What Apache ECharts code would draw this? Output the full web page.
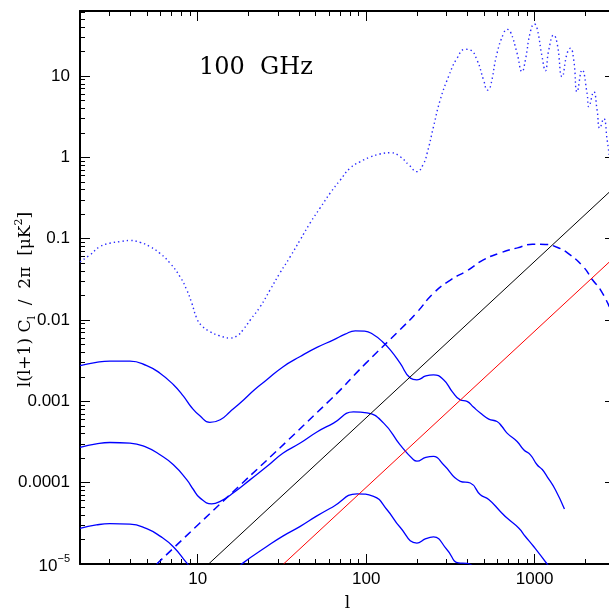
<!DOCTYPE html>
<html>
<head>
<meta charset="utf-8">
<script src="https://cdn.jsdelivr.net/npm/echarts@6/dist/echarts.min.js"></script>
<style>
html, body { margin: 0; padding: 0; background: #fff; }
#chart { width: 609px; height: 613px; }
</style>
</head>
<body>
<div id="chart"></div>
<script>
// axis ranges (log-log)
const xRange = [2, 3000];
const yRange = [1e-5, 63];

// tick labels
const xMajorTicks = [10, 100, 1000];
const xTickLabels = ['10', '100', '1000'];
const yMajorTicks = [1e-5, 1e-4, 1e-3, 0.01, 0.1, 1, 10];
const yTickLabels = ['10^-5', '0.0001', '0.001', '0.01', '0.1', '1', '10'];

// dotted curve (total)
const dottedL = [2, 2.29, 2.63, 3.01, 3.46, 3.96, 4.55, 5.2, 5.97, 6.85, 7.85, 8.6, 9.22, 9.87, 10.5,
  11.8, 13.5, 15.6, 17.5, 18.6, 20.5, 23.5, 26.9, 30.8, 35.4, 40.6, 46.5, 53.3, 61.2, 70.2, 80.5, 92.3,
  106, 121, 139, 159, 180, 200, 218, 230, 251, 275, 308, 346, 388, 415, 455, 498, 526, 546, 598, 655,
  686, 718, 787, 842, 881, 944, 997, 1034, 1107, 1159, 1213, 1299, 1360, 1456, 1559, 1631,
  1707, 1787, 1914, 2049, 2096, 2244, 2349, 2436, 2572, 2694, 2780];
const dottedV = [0.052, 0.063, 0.080, 0.088, 0.092, 0.095, 0.090, 0.080, 0.066, 0.050, 0.034, 0.0235, 0.0161, 0.0105, 0.0086,
  0.0072, 0.0064, 0.0060, 0.0066, 0.0076, 0.010, 0.0146, 0.0235, 0.038, 0.060, 0.097, 0.156, 0.239, 0.365, 0.527, 0.741, 0.885,
  1.01, 1.10, 1.14, 1.02, 0.80, 0.667, 0.82, 1.12, 2.38, 5.07, 9.8, 16.5, 21.3, 20.9, 15.7, 8.9, 6.7, 7.4, 19.0, 33.5,
  37.5, 35.1, 19.0, 11.3, 15.7, 35.1, 43.6, 38.6, 17.3, 11.6, 20.9, 31.9, 25.2, 9.8, 19.0, 21.9,
  15.7, 6.4, 11.9, 6.1, 4.2, 6.4, 3.8, 2.28, 3.0, 1.64, 1.02];

// dashed curve
const dashedL = [5.71, 10.3, 61.1, 98.7, 159, 200, 250, 316, 398, 496, 626, 790, 970, 1159, 1346, 1566, 1948, 2204, 2460, 2780];
const dashedV = [1.0e-5, 3.19e-5, 1.04e-3, 2.89e-3, 7.6e-3, 0.0124, 0.0212, 0.031, 0.0405, 0.0548, 0.0669, 0.0771,
  0.0855, 0.085, 0.079, 0.0669, 0.045, 0.0312, 0.0235, 0.0145];

// solid curves
const solidTopL = [2, 2.5, 3.01, 3.96, 4.98, 5.97, 7.18, 8.22, 9.2, 10.3, 11.8, 13.6, 15.6, 18.7, 21.8, 25.7, 32, 40.6, 51, 64, 75, 86.1,
  98, 110.6, 125, 139, 159, 183, 200, 226, 251, 288, 325, 362, 397, 433, 476, 534, 598, 640, 686, 787, 861, 944, 1034, 1110, 1186, 1328, 1503];
const solidTopV = [0.00275, 0.00302, 0.00313, 0.00313, 0.00275, 0.00222, 0.0016, 0.00116, 0.00084, 0.000664, 0.00055, 0.000593,
  0.00075, 0.00104, 0.00140, 0.00184, 0.00265, 0.00356, 0.0046, 0.0057, 0.0067, 0.00736, 0.0073, 0.00658, 0.0054, 0.0043, 0.00295, 0.00193, 0.00184, 0.00205, 0.00212,
  0.00184, 0.00131, 0.00104, 0.00100, 0.00085, 0.000717, 0.000605, 0.000565, 0.00049, 0.000407, 0.000321, 0.000254, 0.00022,
  0.000166, 0.000145, 0.000119, 0.0000818, 0.0000474];

const solidMidL = [2, 2.5, 3.01, 3.96, 4.98, 5.97, 7.17, 8.6, 9.4, 10.3, 12.1, 13.6, 16.3, 20.5, 25.7, 32, 40.6, 51, 64, 84, 101,
  127, 159, 191, 200, 226, 251, 288, 362, 415, 476, 534, 626, 686, 804, 881, 987, 1186, 1250];
const solidMidV = [2.71e-4, 3.0e-4, 3.12e-4, 3.07e-4, 2.71e-4, 2.2e-4, 1.66e-4, 1.09e-4, 8.3e-5, 6.5e-5, 5.5e-5, 5.9e-5, 7.5e-5,
  1.09e-4, 1.58e-4, 2.3e-4, 3.07e-4, 4.2e-4, 5.4e-4, 7.4e-4, 7.2e-4, 5.4e-4, 2.92e-4, 1.91e-4, 1.84e-4, 2.05e-4, 2.1e-4, 1.66e-4, 1.04e-4,
  9.9e-5, 7.1e-5, 6.2e-5, 4.43e-5, 3.67e-5, 2.77e-5, 2.18e-5, 1.64e-5, 1.0e-5, 8.5e-6];

const solidLowL = [2, 2.5, 3.01, 3.96, 4.98, 5.97, 7.18, 8.6, 9.4, 10.3, 11.8, 13.6, 15.6, 18.7, 25.7, 32, 40.6, 51, 64, 88.2,
  110.6, 133, 159, 200, 226, 251, 302, 354, 397, 476];
const solidLowV = [2.75e-5, 3.02e-5, 3.13e-5, 3.1e-5, 2.72e-5, 2.2e-5, 1.62e-5, 1.03e-5, 8.3e-6, 6.6e-6, 5.5e-6, 5.9e-6, 7.5e-6,
  1.04e-5, 1.64e-5, 2.2e-5, 2.9e-5, 3.9e-5, 5.1e-5, 7.3e-5, 6.8e-5, 4.65e-5, 2.83e-5, 1.81e-5, 2.05e-5, 2.15e-5, 1.5e-5, 1.03e-5, 1.02e-5, 7.2e-6];

// noise lines
const blackL = [11.6, 3000];
const blackV = [1e-5, 0.434];
const redL = [32.3, 3000];
const redV = [1e-5, 0.060];

const SANS = 'Liberation Sans';
const SERIF = 'DejaVu Serif';

// minor tick positions, 2..9 per decade
function minorTicks(range) {
  let out = [];
  for (let d = 1e-6; d < range[1]; d *= 10) {
    for (let k = 2; k <= 9; k++) {
      let v = parseFloat((k * d).toPrecision(6));
      if (v > range[0] && v < range[1]) out.push(v);
    }
  }
  return out;
}

function pairs(ls, vs) {
  return ls.map((l, i) => [l, vs[i]]);
}

function labelIndex(ticks, value) {
  for (let i = 0; i < ticks.length; i++) {
    if (Math.abs(Math.log10(ticks[i]) - Math.log10(value)) < 1e-6) return i;
  }
  return -1;
}

function makeAxis(dim, pos, ticks, len, extra) {
  let range = dim === 'x' ? xRange : yRange;
  return Object.assign({
    type: 'log',
    logBase: 10,
    position: pos,
    gridIndex: 0,
    min: range[0],
    max: range[1],
    axisLine: { show: false },
    axisTick: {
      show: true, inside: true, length: len, customValues: ticks,
      lineStyle: { color: '#000', width: 1 }
    },
    axisLabel: { show: false },
    splitLine: { show: false },
    minorTick: { show: false },
    minorSplitLine: { show: false },
    axisPointer: { show: false }
  }, extra || {});
}

const frameLine = { show: true, onZero: false, lineStyle: { color: '#000', width: 2 } };

const xAxes = [
  makeAxis('x', 'bottom', xMajorTicks, 10, {
    axisLine: frameLine,
    axisLabel: {
      show: true, customValues: xMajorTicks, margin: 7,
      fontFamily: SANS, fontSize: 17, color: '#000',
      formatter: v => xTickLabels[labelIndex(xMajorTicks, v)]
    },
    name: 'l',
    nameLocation: 'middle',
    nameGap: 31,
    nameMoveOverlap: false,
    nameTextStyle: { fontFamily: SERIF, fontSize: 17, color: '#000' }
  }),
  makeAxis('x', 'bottom', minorTicks(xRange), 5),
  makeAxis('x', 'top', xMajorTicks, 10, { axisLine: frameLine }),
  makeAxis('x', 'top', minorTicks(xRange), 5)
];

const yAxes = [
  makeAxis('y', 'left', yMajorTicks, 10, {
    axisLine: frameLine,
    axisLabel: {
      show: true, customValues: yMajorTicks, margin: 10,
      fontFamily: SANS, fontSize: 17, color: '#000',
      formatter: function (v) {
        let s = yTickLabels[labelIndex(yMajorTicks, v)];
        if (s && s.indexOf('^') > 0) {
          let parts = s.split('^');
          return '{b|' + parts[0] + '}{s|' + parts[1].replace('-', '\u2212') + '}';
        }
        return s;
      },
      rich: {
        b: { fontFamily: SANS, fontSize: 17, color: '#000', lineHeight: 22, padding: [4, 0, 0, 0] },
        s: { fontFamily: SANS, fontSize: 11, color: '#000', verticalAlign: 'top', lineHeight: 12 }
      }
    },
    name: '{a|l(l+1) C}{s|l}{a|  /  2\u03c0  [\u03bcK}{p|2}{a|]}',
    nameLocation: 'middle',
    nameGap: 42,
    nameRotate: 90,
    nameMoveOverlap: false,
    nameTextStyle: {
      fontFamily: SERIF, fontSize: 17, color: '#000',
      padding: [0, 24, 0, 0],
      rich: {
        a: { fontFamily: SERIF, fontSize: 17, color: '#000', lineHeight: 24 },
        s: { fontFamily: SERIF, fontSize: 11, color: '#000', verticalAlign: 'bottom', lineHeight: 11 },
        p: { fontFamily: SERIF, fontSize: 11, color: '#000', verticalAlign: 'top', lineHeight: 11 }
      }
    }
  }),
  makeAxis('y', 'left', minorTicks(yRange), 5),
  makeAxis('y', 'right', yMajorTicks, 10, { axisLine: frameLine }),
  makeAxis('y', 'right', minorTicks(yRange), 5)
];

function curve(name, ls, vs, color, width, type, smooth) {
  return {
    name: name,
    type: 'line',
    xAxisIndex: 0,
    yAxisIndex: 0,
    data: pairs(ls, vs),
    showSymbol: false,
    symbol: 'none',
    smooth: smooth,
    clip: true,
    silent: true,
    lineStyle: { color: color, width: width, type: type },
    itemStyle: { color: color }
  };
}

const chart = echarts.init(document.getElementById('chart'));
chart.setOption({
  animation: false,
  backgroundColor: '#fff',
  title: {
    text: '100  GHz',
    left: 199,
    top: 56,
    padding: 0,
    textStyle: { fontFamily: SERIF, fontSize: 24, fontWeight: 'normal', color: '#000' }
  },
  grid: {
    left: 80, right: -6, top: 11, bottom: 49,
    containLabel: false,
    outerBoundsMode: 'none'
  },
  xAxis: xAxes,
  yAxis: yAxes,
  series: [
    curve('total', dottedL, dottedV, '#2a2aff', 1.4, [1.4, 3], 0.5),
    curve('dashed', dashedL, dashedV, '#0000ff', 1.5, [8, 5], 0.5),
    curve('solid1', solidTopL, solidTopV, '#0000ff', 1.3, 'solid', 0.5),
    curve('solid2', solidMidL, solidMidV, '#0000ff', 1.3, 'solid', 0.5),
    curve('solid3', solidLowL, solidLowV, '#0000ff', 1.3, 'solid', 0.5),
    curve('noise1', blackL, blackV, '#000000', 1, 'solid', false),
    curve('noise2', redL, redV, '#ff0000', 1, 'solid', false)
  ]
});
</script>
</body>
</html>
